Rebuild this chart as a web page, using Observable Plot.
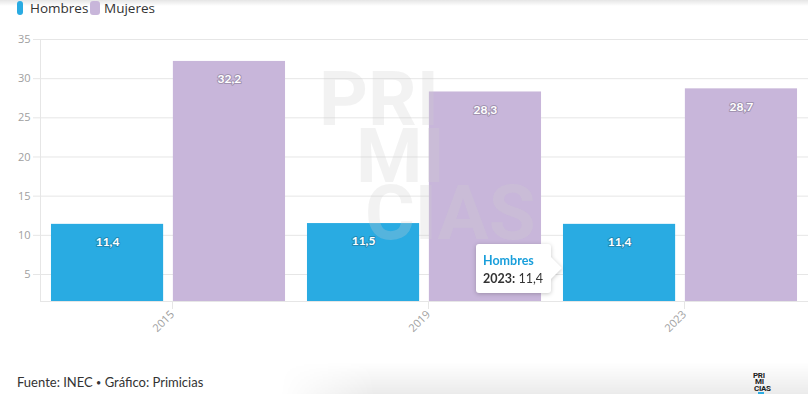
<!DOCTYPE html>
<html>
<head>
<meta charset="utf-8">
<script src="https://cdn.jsdelivr.net/npm/d3@7"></script>
<script src="https://cdn.jsdelivr.net/npm/@observablehq/plot@0.6"></script>
<style>
  html, body { margin: 0; padding: 0; background: #fff; }
  #c { position: relative; width: 808px; height: 394px; overflow: hidden; background: #fff; }
  .abs { position: absolute; }
  #topshadow { left: 0; top: 0; width: 808px; height: 6px; background: linear-gradient(to bottom, rgba(0,0,0,0.10), rgba(0,0,0,0)); z-index: 5; }
  #botshadow { left: 280px; top: 362px; width: 528px; height: 32px;
    background: linear-gradient(to bottom, rgba(0,0,0,0), rgba(0,0,0,0.08));
    -webkit-mask-image: linear-gradient(to right, transparent 0%, black 18%);
    mask-image: linear-gradient(to right, transparent 0%, black 18%); }
  #legend { left: 0; top: 0; height: 20px; width: 808px; font-family: "Open Sans", sans-serif; font-size: 13.5px; line-height: 17px; color: #333; z-index: 6; }
  .mk { position: absolute; top: 1px; height: 14px; border-radius: 3px; }
  .lt { position: absolute; top: 0; white-space: nowrap; }
  #plotwrap { left: 0; top: 20px; z-index: 1; }
  #wm { left: 0; top: 0; z-index: 2; pointer-events: none; }
  #footer { left: 17px; top: 374px; font-family: Lato, sans-serif; font-size: 13px; line-height: 16px; color: #333; white-space: nowrap; }
  #footer .dot { font-size: 9px; vertical-align: 1px; }
  #logo { left: 0; top: 0; z-index: 3; }
  #tip { z-index: 10; background: #fff; border-radius: 3px; width: 75px; height: 49px; box-sizing: border-box;
    padding: 8px 0 0 7px; font-family: Lato, sans-serif; font-size: 12.5px; line-height: 18px; color: #333;
    filter: drop-shadow(0 1px 2px rgba(0,0,0,0.22)); }
  #tip::after { content: ""; position: absolute; right: -11px; top: 13px; width: 0; height: 0;
    border-top: 11px solid transparent; border-bottom: 11px solid transparent; border-left: 11px solid #fff; }
  #tip .t { color: #1a9fdb; font-weight: bold; }
  #tip b { font-weight: bold; }
</style>
</head>
<body>
<div id="c"></div>
<script>
// ---- data ----
const years = [2015, 2019, 2023];
const series = ["Hombres", "Mujeres"];
const hombres = [11.4, 11.5, 11.4];
const mujeres = [32.2, 28.3, 28.7];
const yTicks = [5, 10, 15, 20, 25, 30, 35];
const yDomain = [1.55, 35];
const colors = ["#29abe2", "#c8b6da"];
const sourceParts = ["Fuente: INEC", "Gráfico: Primicias"];
const watermarkLines = ["PRI", "MI", "CIAS"];
const tipYear = 2023;
const tipSeries = "Hombres";

const data = years.flatMap((yr, i) => [
  {year: yr, sex: series[0], value: hombres[i]},
  {year: yr, sex: series[1], value: mujeres[i]}
]);
const fmt = v => v.toFixed(1).replace(".", ",");
const colorOf = s => colors[series.indexOf(s)];

const c = document.getElementById("c");

// top shadow
const ts = document.createElement("div"); ts.id = "topshadow"; ts.className = "abs"; c.appendChild(ts);
// bottom card shadow
const bs = document.createElement("div"); bs.id = "botshadow"; bs.className = "abs"; c.appendChild(bs);

// legend
const lg = document.createElement("div"); lg.id = "legend"; lg.className = "abs";
const legendPos = [{mk: 17, w: 6, tx: 30}, {mk: 90, w: 10, tx: 104}];
series.forEach((s, i) => {
  const m = document.createElement("span"); m.className = "mk";
  m.style.left = legendPos[i].mk + "px"; m.style.width = legendPos[i].w + "px"; m.style.background = colors[i];
  lg.appendChild(m);
  const t = document.createElement("span"); t.className = "lt"; t.style.left = legendPos[i].tx + "px"; t.textContent = s;
  lg.appendChild(t);
});
c.appendChild(lg);

// plot
const plot = Plot.plot({
  width: 808,
  height: 345,
  marginLeft: 40,
  marginRight: 0,
  marginTop: 19,
  marginBottom: 64,
  style: {fontFamily: "'Open Sans', sans-serif", fontSize: "11px", background: "transparent", color: "#999", overflow: "visible"},
  fx: {domain: years, padding: 0, label: null},
  x: {domain: series, paddingInner: 0.08, paddingOuter: 0.09, round: false, axis: null},
  y: {domain: yDomain, label: null},
  color: {domain: series, range: colors},
  marks: [
    Plot.gridY(yTicks, {stroke: "#e6e6e6", strokeOpacity: 1}),
    Plot.ruleY([yDomain[0]], {stroke: "#e6e6e6"}),
    Plot.frame({anchor: "left", stroke: "#e6e6e6", facetAnchor: "left"}),
    Plot.axisY(yTicks, {tickSize: 7, tickPadding: 3, stroke: "#e6e6e6", fill: "#a0a0a0", label: null, tickFormat: d => String(d)}),
    Plot.axisFx({anchor: "bottom", tickRotate: -45, tickSize: 7, tickPadding: 3, dx: 4, dy: 1, stroke: "#e6e6e6", fill: "#a0a0a0", label: null, tickFormat: d => String(d)}),
    Plot.rectY(data, {fx: "year", x: "sex", y1: yDomain[0], y2: "value", fill: "sex"}),
    Plot.text(data, {
      fx: "year", x: "sex", y: "value", text: d => fmt(d.value), dy: 18,
      fill: "white", stroke: d => d3.color(colorOf(d.sex)).darker(0.6).formatHex(), strokeWidth: 2,
      fontFamily: "Lato, sans-serif", fontWeight: "bold", fontSize: 12
    })
  ]
});
const pw = document.createElement("div"); pw.id = "plotwrap"; pw.className = "abs";
pw.appendChild(plot);
c.appendChild(pw);

// watermark (faint overlay) — one text element with three lines
const NS = "http://www.w3.org/2000/svg";
const wm = document.createElementNS(NS, "svg");
wm.setAttribute("width", 808); wm.setAttribute("height", 394); wm.setAttribute("id", "wm");
wm.setAttribute("class", "abs");
const wmText = document.createElementNS(NS, "text");
wmText.setAttribute("font-family", "Roboto, sans-serif"); wmText.setAttribute("font-weight", "bold");
wmText.setAttribute("font-size", "76"); wmText.setAttribute("fill", "#cfcfcf"); wmText.setAttribute("fill-opacity", "0.27");
const wmPos = [[319, 125], [356, 182], [365, 239]];
watermarkLines.forEach((t, i) => {
  const sp = document.createElementNS(NS, "tspan");
  sp.setAttribute("x", wmPos[i][0]); sp.setAttribute("y", wmPos[i][1]); sp.textContent = t;
  wmText.appendChild(sp);
});
wm.appendChild(wmText);
c.appendChild(wm);

// footer
const ft = document.createElement("div"); ft.id = "footer"; ft.className = "abs";
ft.innerHTML = `${sourceParts[0]} <span class="dot">•</span> ${sourceParts[1]}`;
c.appendChild(ft);

// logo
const lo = document.createElementNS(NS, "svg");
lo.setAttribute("width", 808); lo.setAttribute("height", 394); lo.setAttribute("id", "logo"); lo.setAttribute("class", "abs");
const loText = document.createElementNS(NS, "text");
loText.setAttribute("font-family", "Roboto, sans-serif"); loText.setAttribute("font-weight", "bold");
loText.setAttribute("font-size", "8"); loText.setAttribute("fill", "#222"); loText.setAttribute("letter-spacing", "-0.3");
const loPos = [[753, 377.5], [755, 384], [754, 390.5]];
watermarkLines.forEach((t, i) => {
  const sp = document.createElementNS(NS, "tspan");
  sp.setAttribute("x", loPos[i][0]); sp.setAttribute("y", loPos[i][1]); sp.textContent = t;
  loText.appendChild(sp);
});
lo.appendChild(loText);
const lr = document.createElementNS(NS, "rect");
lr.setAttribute("x", 758); lr.setAttribute("y", 392); lr.setAttribute("width", 6); lr.setAttribute("height", 2); lr.setAttribute("fill", "#29abe2");
lo.appendChild(lr);
c.appendChild(lo);

// tooltip anchored to the 2023 Hombres bar
const tipDatum = data.find(d => d.year === tipYear && d.sex === tipSeries);
const svgRoot = plot.tagName.toLowerCase() === "svg" ? plot : plot.querySelector("svg");
const cRect = c.getBoundingClientRect();
const rects = Array.from(svgRoot.querySelectorAll("rect")).filter(r => (r.getAttribute("fill") || "") === colorOf(tipSeries));
let barLeft = 563;
if (rects.length) {
  const b = rects.map(r => r.getBoundingClientRect()).sort((a, b2) => b2.left - a.left)[0];
  barLeft = b.left - cRect.left;
}
const svgTop = svgRoot.getBoundingClientRect().top - cRect.top;
const tipY = plot.scale("y").apply(tipDatum.value / 2) + svgTop;
const tip = document.createElement("div"); tip.id = "tip"; tip.className = "abs";
tip.innerHTML = `<div class="t">${tipSeries}</div><div><b>${tipYear}:</b> ${fmt(tipDatum.value)}</div>`;
tip.style.left = (barLeft - 1 - 11 - 75) + "px";
tip.style.top = (tipY - 24) + "px";
c.appendChild(tip);
</script>
</body>
</html>
